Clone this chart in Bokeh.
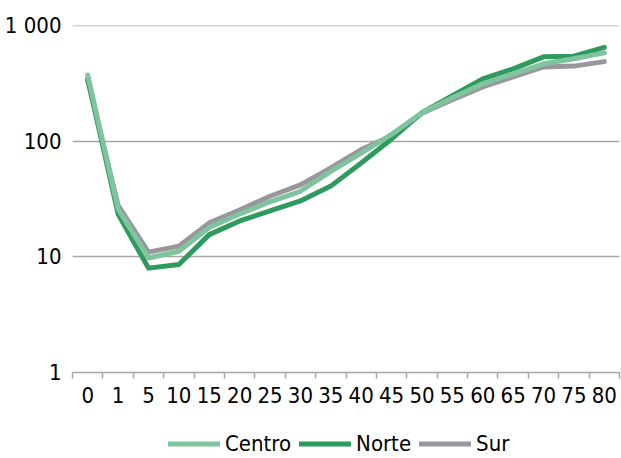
from bokeh.plotting import figure
from bokeh.layouts import column
from bokeh.models import (Range1d, LinearAxis, LogAxis, FixedTicker, Legend, LegendItem,
                          ColumnDataSource, LogScale, Grid)
from bokeh.embed import file_html
from bokeh.resources import INLINE

categories = ["0", "1", "5", "10", "15", "20", "25", "30", "35", "40", "45",
              "50", "55", "60", "65", "70", "75", "80"]
centro = [375, 26, 9.8, 11.2, 18.0, 23.5, 30, 37, 55, 79, 115, 177, 238, 315, 384, 469, 518, 583]
norte = [350, 23.5, 8.0, 8.6, 15.6, 20.5, 25, 30.5, 41, 65, 105, 177, 248, 347, 424, 539, 545, 650]
sur = [335, 28, 11.0, 12.4, 19.7, 25.5, 33.5, 42, 59, 85, 112, 175, 229, 296, 362, 441, 448, 490]

y_ticks = [1, 10, 100, 1000]
y_labels = ["1", "10", "100", "1 000"]
series_names = ["Centro", "Norte", "Sur"]

FONT = "DejaVu Sans Condensed"

n = len(categories)
xs = [i + 0.5 for i in range(n)]

p = figure(width=621, height=428,
           y_axis_type=None, x_axis_type=None,
           x_range=Range1d(0, n), y_range=Range1d(1, 1006),
           output_backend="svg", toolbar_location=None)
p.y_scale = LogScale()
p.min_border_left = 72
p.min_border_right = 2
p.min_border_top = 25
p.min_border_bottom = 56
p.outline_line_color = None
p.background_fill_color = "white"
p.border_fill_color = "white"

yaxis = LogAxis(ticker=FixedTicker(ticks=y_ticks),
                major_label_overrides={t: l for t, l in zip(y_ticks, y_labels)})
yaxis.axis_line_color = None
yaxis.major_tick_line_color = None
yaxis.minor_tick_line_color = None
yaxis.major_label_text_font = FONT
yaxis.major_label_text_font_size = "22px"
yaxis.major_label_text_color = "#000000"
yaxis.major_label_standoff = 5
p.add_layout(yaxis, "left")

xaxis = LinearAxis(ticker=FixedTicker(ticks=xs, minor_ticks=list(range(n + 1))),
                   major_label_overrides={x: c for x, c in zip(xs, categories)})
xaxis.axis_line_color = "#a6a6a6"
xaxis.axis_line_width = 1.5
xaxis.major_tick_line_color = None
xaxis.major_tick_out = 0
xaxis.major_tick_in = 0
xaxis.minor_tick_line_color = "#a6a6a6"
xaxis.minor_tick_line_width = 1.5
xaxis.minor_tick_out = 6
xaxis.minor_tick_in = 0
xaxis.major_label_text_font = FONT
xaxis.major_label_text_font_size = "22px"
xaxis.major_label_text_color = "#000000"
xaxis.major_label_standoff = 8
p.add_layout(xaxis, "below")

ygrid = Grid(dimension=1, ticker=FixedTicker(ticks=y_ticks[1:]))
ygrid.grid_line_color = "#a6a6a6"
ygrid.grid_line_width = 1.5
p.add_layout(ygrid)

colors = {"Centro": "#7fc49e", "Norte": "#2e9a5e", "Sur": "#98989c"}
series = {"Centro": centro, "Norte": norte, "Sur": sur}

for name in ["Sur", "Norte", "Centro"]:
    src = ColumnDataSource(dict(x=xs, y=series[name]))
    p.line("x", "y", source=src, line_color=colors[name], line_width=5,
           line_cap="round", line_join="round")

# legend strip below the chart
p2 = figure(width=621, height=30, x_axis_type=None, y_axis_type=None,
            x_range=Range1d(0, n), y_range=Range1d(-2, -1),
            output_backend="svg", toolbar_location=None)
p2.min_border = 0
p2.outline_line_color = None
p2.xgrid.visible = False
p2.ygrid.visible = False

leg_renderers = {}
for name in series_names:
    src = ColumnDataSource(dict(x=xs, y=series[name]))
    leg_renderers[name] = p2.line("x", "y", source=src, line_color=colors[name], line_width=5,
                                  line_cap="round", line_join="round")

legend = Legend(items=[LegendItem(label=nm, renderers=[leg_renderers[nm]]) for nm in series_names],
                orientation="horizontal", location="left")
legend.label_text_font = FONT
legend.label_text_font_size = "22px"
legend.label_text_color = "#000000"
legend.label_height = 20
legend.glyph_height = 20
legend.glyph_width = 52
legend.label_standoff = 5
legend.spacing = 8
legend.padding = 0
legend.margin = 96
legend.border_line_color = None
legend.background_fill_alpha = 0
p2.add_layout(legend, "center")

open("out.html", "w").write(file_html(column(p, p2, spacing=0), INLINE))
